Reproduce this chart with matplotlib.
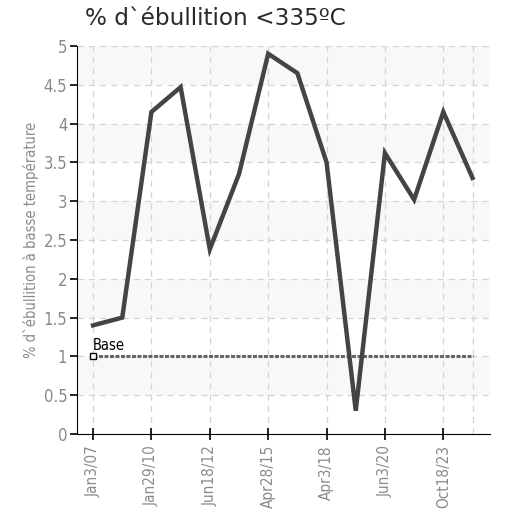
import matplotlib
matplotlib.use('Agg')
import matplotlib.pyplot as plt

# data
dates = ['Jan3/07', '', 'Jan29/10', '', 'Jun18/12', '', 'Apr28/15', '',
         'Apr3/18', '', 'Jun3/20', '', 'Oct18/23', '']
values = [1.4, 1.5, 4.15, 4.47, 2.38, 3.35, 4.9, 4.65, 3.5, 0.3, 3.62, 3.02, 4.15, 3.3]
base = [1.0] * len(values)
yticks = [0, 0.5, 1, 1.5, 2, 2.5, 3, 3.5, 4, 4.5, 5]
yticklabels = ['0', '0.5', '1', '1.5', '2', '2.5', '3', '3.5', '4', '4.5', '5']

grey = '#8a8a8a'
cond = dict(family='DejaVu Sans', stretch='condensed')

fig = plt.figure(figsize=(5.08, 5.18), dpi=100)
ax = fig.add_axes([0.1516, 0.1622, 0.813, 0.749])

x = list(range(len(values)))
ax.set_xlim(-0.55, 13.6)
ax.set_ylim(0, 5)

# alternating bands
for lo in [0.5, 1.5, 2.5, 3.5, 4.5]:
    ax.axhspan(lo, lo + 0.5, color='#f8f8f8', zorder=0, lw=0)

for y in yticks[1:]:
    ax.axhline(y, color='#d4d4d4', ls=(0, (5, 4)), lw=0.9, zorder=1)
for i in [0, 2, 4, 6, 8, 10, 12, 13]:
    ax.axvline(i, color='#d4d4d4', ls=(0, (5, 4)), lw=0.9, zorder=1)

ax.plot(x, base, color='#666666', lw=2.2, ls=(0, (1.3, 0.5)), zorder=2)
ax.plot([0], [1.0], marker='s', ms=5, mfc='white', mec='black', mew=1, ls='none', zorder=4)
ax.text(0, 1.05, 'Base', fontsize=10.5, color='black', va='bottom', ha='left', **cond)

ax.plot(x, values, color='#444444', lw=3.2, zorder=3, solid_joinstyle='miter')

ax.set_xticks([0, 2, 4, 6, 8, 10, 12])
ax.set_xticklabels([d for d in dates if d], rotation=90, fontsize=11, color=grey, **cond)
ax.set_yticks(yticks)
ax.set_yticklabels(yticklabels, fontsize=12, color=grey, **cond)
ax.tick_params(axis='x', direction='inout', length=8, width=1.2, color='black', pad=4)
ax.tick_params(axis='y', direction='out', length=5, width=1.2, color='black', pad=2)

for s in ['top', 'right']:
    ax.spines[s].set_visible(False)
ax.spines['left'].set_color('black')
ax.spines['bottom'].set_color('black')

ax.set_ylabel('% d`ébullition à basse température', fontsize=10.5, color=grey, labelpad=3, **cond)

fig.text(0.167, 0.965, '% d`ébullition <335ºC', fontsize=16.7, color='#2a2a2a', va='center', ha='left')

fig.savefig('out.png', dpi=100)
